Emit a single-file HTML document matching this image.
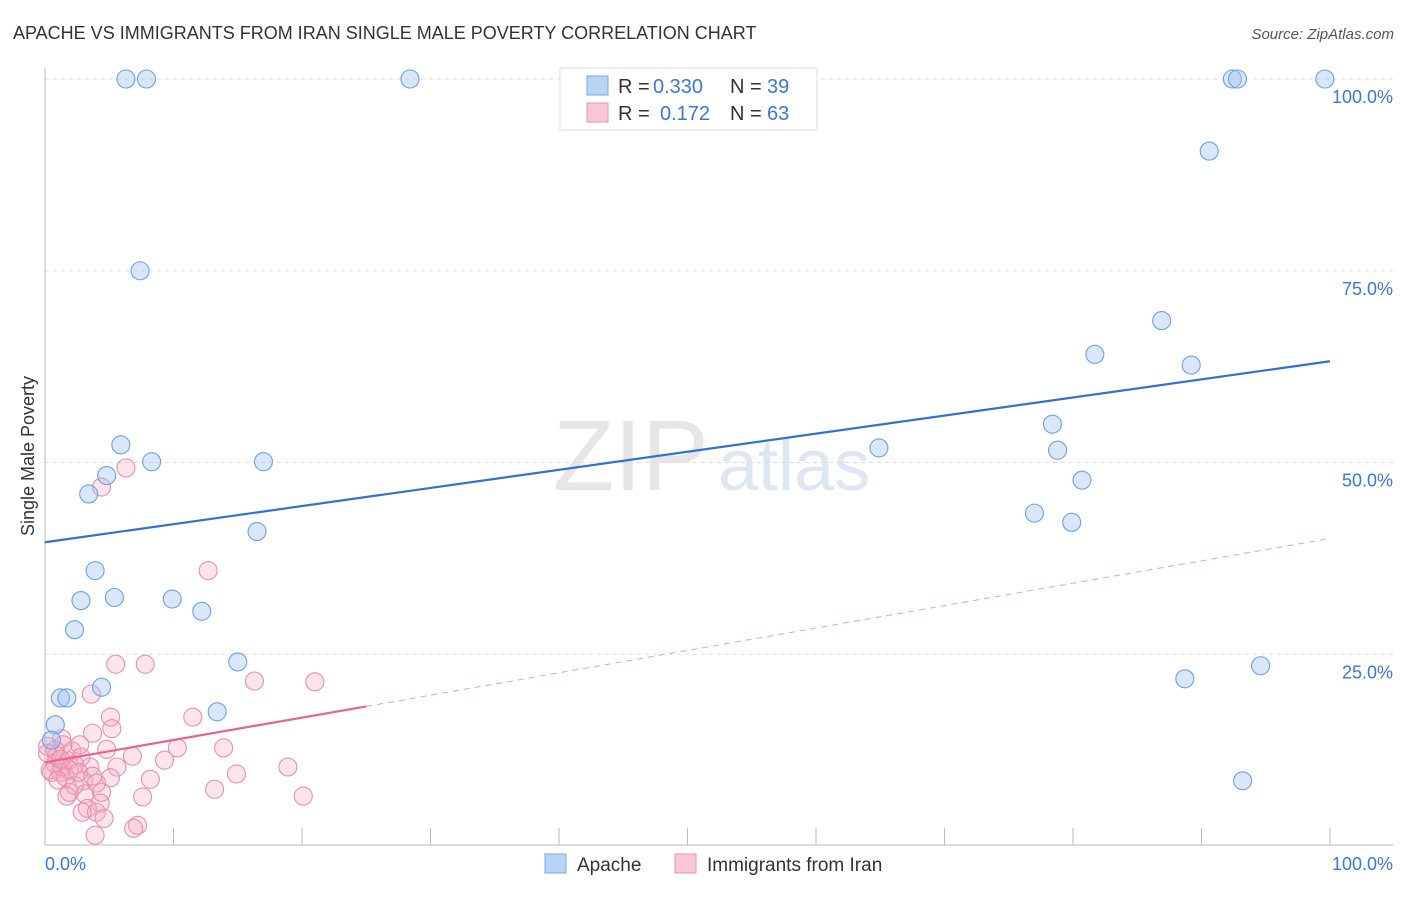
<!DOCTYPE html>
<html><head><meta charset="utf-8"><style>
body{margin:0;background:#fff;font-family:"Liberation Sans",sans-serif;}
svg text{font-family:"Liberation Sans",sans-serif;}
</style></head><body>
<svg id="c" width="1406" height="892">
<text x="13" y="39" font-size="18" fill="#333">APACHE VS IMMIGRANTS FROM IRAN SINGLE MALE POVERTY CORRELATION CHART</text>
<text x="1394" y="39" font-size="15" fill="#555" text-anchor="end" font-style="italic">Source: ZipAtlas.com</text>
<text x="34" y="456" font-size="18" fill="#333" text-anchor="middle" transform="rotate(-90 34 456)">Single Male Poverty</text>
<text x="553" y="490" font-size="100" fill="#e6e6e6" font-family="Liberation Serif">ZIP</text>
<text x="718" y="490" font-size="72" fill="#dde6f3">atlas</text>
<g id="grid"></g><g id="pts"></g><g id="trend"></g>
<rect x="560" y="68" width="257" height="62" fill="#fff" stroke="#ddd"/>
<rect x="587" y="76" width="21" height="19" fill="#b8d3f5" stroke="#7aaae6"/>
<text x="618" y="93" font-size="20" fill="#333">R =</text>
<text x="653" y="93" font-size="20" fill="#3a78d4">0.330</text>
<text x="730" y="93" font-size="20" fill="#333">N =</text>
<text x="767" y="93" font-size="20" fill="#3a78d4">39</text>
<rect x="587" y="103" width="21" height="19" fill="#f9c6d6" stroke="#ec93b0"/>
<text x="618" y="120" font-size="20" fill="#333">R =</text>
<text x="660" y="120" font-size="20" fill="#3a78d4">0.172</text>
<text x="730" y="120" font-size="20" fill="#333">N =</text>
<text x="767" y="120" font-size="20" fill="#3a78d4">63</text>
<rect x="545" y="854" width="21" height="19" fill="#b8d3f5" stroke="#7aaae6"/>
<text x="577" y="871" font-size="19" fill="#333">Apache</text>
<rect x="675" y="854" width="21" height="19" fill="#f9c6d6" stroke="#ec93b0"/>
<text x="707" y="871" font-size="19" fill="#333">Immigrants from Iran</text>
<text x="45" y="870" font-size="18" fill="#3a78d4">0.0%</text>
<text x="1393" y="870" font-size="18" fill="#3a78d4" text-anchor="end">100.0%</text>
</svg>
<script>
const yTicks=[100,75,50,25];
const yTickLabels=["100.0%","75.0%","50.0%","25.0%"];
const apacheX=[6.3,7.9,28.4,92.4,92.8,99.6,90.6,7.4,86.9,81.7,89.2,78.4,78.8,80.7,5.9,4.8,8.3,17.0,3.4,64.9,77.0,79.9,16.5,3.9,2.8,5.4,9.9,12.2,2.3,15.0,94.6,88.7,4.4,1.2,1.7,13.4,0.8,0.5,93.2];
const apacheY=[100,100,100,100,100,100,90.6,75.0,68.5,64.1,62.7,55.0,51.6,47.7,52.3,48.3,50.1,50.1,45.9,51.9,43.4,42.2,41.0,35.9,32.0,32.4,32.2,30.6,28.2,24.0,23.5,21.8,20.7,19.3,19.3,17.5,15.8,13.8,8.5];
const iranX=[6.3,4.4,12.7,5.5,7.8,16.3,21.0,3.6,11.5,5.1,5.2,3.7,1.3,10.3,13.9,4.8,6.8,2.1,0.9,2.8,1.8,0.2,0.8,0.4,1.3,1.2,2.3,3.5,5.6,9.3,18.9,14.9,8.2,5.1,3.0,1.6,0.5,1.9,3.1,4.4,2.3,4.0,13.2,20.1,7.6,1.7,4.3,3.3,4.0,4.6,2.9,7.2,6.9,3.9,1.0,0.2,2.7,1.4,0.8,1.9,2.6,1.2,3.7];
const iranY=[49.3,46.8,35.9,23.7,23.7,21.5,21.4,19.8,16.8,16.8,15.3,14.7,14.0,12.8,12.8,12.6,11.7,12.4,11.7,11.6,11.1,13.0,10.7,9.9,10.3,9.6,10.6,10.3,10.3,11.2,10.3,9.4,8.7,8.9,8.5,9.0,9.6,7.0,6.8,7.0,7.9,8.2,7.4,6.5,6.4,6.5,5.6,4.9,4.4,3.6,4.4,2.7,2.3,1.4,8.6,12.1,13.2,13.2,12.5,9.9,9.6,11.3,9.1];
const apacheTrend=[39.6,63.2];
const iranTrend=[10.9,40.1];
const iranSolidEnd=25;
const NS="http://www.w3.org/2000/svg";
const X0=45,X1=1330,Y0=846,Y100=79;
const sx=v=>X0+(X1-X0)*v/100, sy=v=>Y0-(Y0-Y100)*v/100;
function mk(tag,attrs,parent){const e=document.createElementNS(NS,tag);for(const k in attrs)e.setAttribute(k,attrs[k]);parent.appendChild(e);return e;}
const grid=document.getElementById('grid'),pts=document.getElementById('pts'),tr=document.getElementById('trend');
yTicks.forEach((t,i)=>{
 const l=mk('line',{x1:X0,x2:1393,y1:sy(t),y2:sy(t),stroke:'#ddd','stroke-dasharray':'4 4'},grid);
 
 
 const tx=mk('text',{x:1393,y:sy(t)+24,'font-size':18,fill:'#3a78d4','text-anchor':'end'},grid);
 tx.textContent=yTickLabels[i];
 
 
});
const ax=mk('line',{x1:X0,x2:X0,y1:68,y2:845,stroke:'#bbb'},grid);


const bx=mk('line',{x1:X0,x2:1393,y1:845,y2:845,stroke:'#bbb'},grid);


for(let i=0;i<=10;i++){
 const t=mk('line',{x1:sx(i*10),x2:sx(i*10),y1:828,y2:845,stroke:'#bbb'},grid);
 
 
}
iranX.forEach((v,i)=>{
 const c=mk('circle',{cx:sx(v),cy:sy(iranY[i]),r:9,fill:'rgba(245,165,192,0.3)',stroke:'#ea8fae','stroke-width':1.1},pts);
 
 
});
apacheX.forEach((v,i)=>{
 const c=mk('circle',{cx:sx(v),cy:sy(apacheY[i]),r:9,fill:'rgba(160,196,240,0.4)',stroke:'#6aa2e4','stroke-width':1.1},pts);
 
 
});
const l1=mk('line',{x1:sx(0),y1:sy(apacheTrend[0]),x2:sx(100),y2:sy(apacheTrend[1]),stroke:'#2f72d4','stroke-width':2.2},tr);


const iy=v=>iranTrend[0]+(iranTrend[1]-iranTrend[0])*v/100;
const l2=mk('line',{x1:sx(0),y1:sy(iy(0)),x2:sx(iranSolidEnd),y2:sy(iy(iranSolidEnd)),stroke:'#e8648e','stroke-width':2.2},tr);


const l3=mk('line',{x1:sx(iranSolidEnd),y1:sy(iy(iranSolidEnd)),x2:sx(100),y2:sy(iy(100)),stroke:'#e8a0b8','stroke-width':1,'stroke-dasharray':'6 5'},tr);


</script>
</body></html>
